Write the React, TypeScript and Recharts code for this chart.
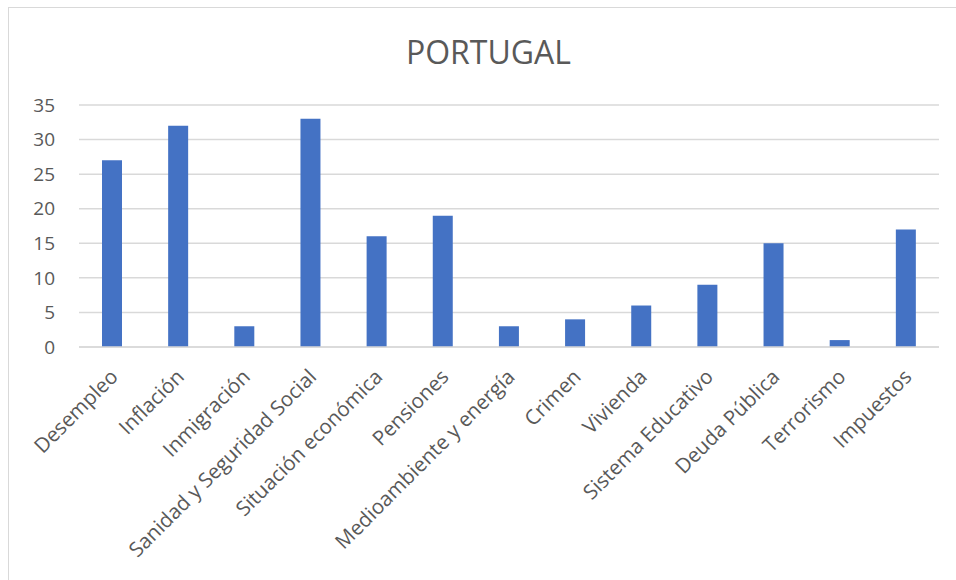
import React from "react";
import { BarChart, Bar, XAxis, YAxis, CartesianGrid } from "recharts";

const categories = [
  "Desempleo",
  "Inflación",
  "Inmigración",
  "Sanidad y Seguridad Social",
  "Situación económica",
  "Pensiones",
  "Medioambiente y energía",
  "Crimen",
  "Vivienda",
  "Sistema Educativo",
  "Deuda Pública",
  "Terrorismo",
  "Impuestos",
];
const values = [27, 32, 3, 33, 16, 19, 3, 4, 6, 9, 15, 1, 17];
const yTicks = [0, 5, 10, 15, 20, 25, 30, 35];
const title = "PORTUGAL";

const data = categories.map((c, i) => ({ name: c, value: values[i] }));

const FONT = "'Open Sans', 'DejaVu Sans', sans-serif";

const XTick = (props: any) => {
  const { x, y, payload } = props;
  return (
    <g transform={`translate(${x + 2},${y + 18})`}>
      <text
        transform="rotate(-45)"
        textAnchor="end"
        dy="0.35em"
        fill="#595959"
        fontSize={20.5}
        fontFamily={FONT}
      >
        {payload.value}
      </text>
    </g>
  );
};

export default function App() {
  return (
    <div
      style={{
        position: "absolute",
        left: 8,
        top: 7,
        width: 960,
        height: 590,
        border: "1px solid #d9d9d9",
        background: "#fff",
      }}
    >
      <div
        style={{
          position: "absolute",
          left: 0,
          top: 22,
          width: 959,
          textAlign: "center",
          fontFamily: FONT,
          fontSize: 32,
          color: "#595959",
        }}
      >
        {title}
      </div>
      <BarChart
        width={960}
        height={590}
        data={data}
        margin={{ top: 97, right: 30, left: 30, bottom: 51 }}
        barSize={20}
      >
        <CartesianGrid vertical={false} stroke="#d9d9d9" strokeWidth={1.5} />
        <XAxis
          dataKey="name"
          interval={0}
          height={200}
          tickLine={false}
          axisLine={{ stroke: "#d9d9d9", strokeWidth: 1.5 }}
          tick={<XTick />}
        />
        <YAxis
          width={40}
          domain={[0, 35]}
          ticks={yTicks}
          axisLine={false}
          tickLine={false}
          tickMargin={18}
          tick={{ fill: "#595959", fontSize: 19, fontFamily: FONT }}
        />
        <Bar dataKey="value" fill="#4472C4" isAnimationActive={false} />
      </BarChart>
    </div>
  );
}
